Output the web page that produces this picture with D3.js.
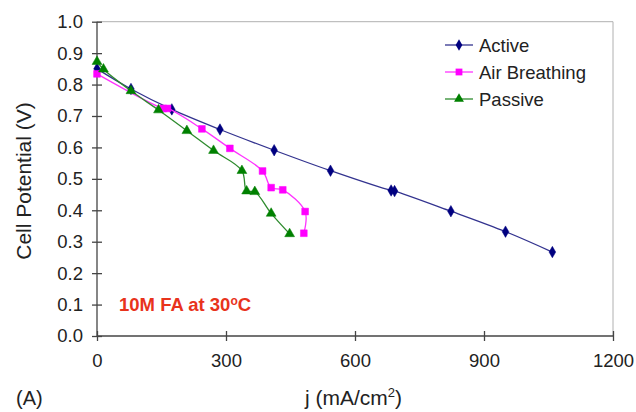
<!DOCTYPE html>
<html>
<head>
<meta charset="utf-8">
<script src="https://cdn.jsdelivr.net/npm/d3@7"></script>
<style>
  html, body { margin: 0; padding: 0; background: #fff; }
  svg { display: block; font-family: "Liberation Sans", Arial, sans-serif; }
</style>
</head>
<body>
<svg id="chart" width="636" height="412"></svg>
<script>
// ---- data ----
const xTicks = [0, 300, 600, 900, 1200];
const yTicks = [0, 0.1, 0.2, 0.3, 0.4, 0.5, 0.6, 0.7, 0.8, 0.9, 1.0];

const activeJ = [0, 79, 174, 286, 412, 543, 684, 692, 823, 950, 1059];
const activeV = [0.850, 0.786, 0.721, 0.657, 0.591, 0.526, 0.463, 0.461, 0.397, 0.332, 0.267];

const airJ = [0, 154, 164, 244, 309, 385, 405, 432, 484, 481];
const airV = [0.834, 0.724, 0.724, 0.659, 0.597, 0.525, 0.472, 0.465, 0.396, 0.327];

const passiveJ = [0, 15, 79, 143, 209, 271, 337, 348, 367, 405, 448];
const passiveV = [0.873, 0.849, 0.780, 0.719, 0.653, 0.590, 0.526, 0.461, 0.459, 0.390, 0.325];

const seriesNames = ["Active", "Air Breathing", "Passive"];

// ---- chart ----
const svg = d3.select("#chart");
const x = d3.scaleLinear().domain([0, 1200]).range([97, 613]);
const y = d3.scaleLinear().domain([0, 1]).range([336, 21.7]);

const series = [
  { name: seriesNames[0], j: activeJ, v: activeV, line: "#33338f", fill: "#000080", sym: d3.symbolDiamond, size: 38 },
  { name: seriesNames[1], j: airJ, v: airV, line: "#ff33ff", fill: "#ff00ff", sym: d3.symbolSquare, size: 46 },
  { name: seriesNames[2], j: passiveJ, v: passiveV, line: "#2e8b2e", fill: "#008000", sym: d3.symbolTriangle, size: 42 }
];

// frame (top & right)
svg.append("line").attr("x1", x(0)).attr("x2", x(1200)).attr("y1", y(1)).attr("y2", y(1))
  .attr("stroke", "#b0b0b0").attr("stroke-width", 1);
svg.append("line").attr("x1", x(1200)).attr("x2", x(1200)).attr("y1", y(1)).attr("y2", y(0))
  .attr("stroke", "#b0b0b0").attr("stroke-width", 1);

// axes
const axisColor = "#444";
const gy = svg.append("g").attr("transform", `translate(${x(0)},0)`)
  .call(d3.axisLeft(y).tickValues(yTicks).tickFormat(d3.format(".1f")).tickSize(5).tickPadding(9));
const gx = svg.append("g").attr("transform", `translate(0,${y(0)})`)
  .call(d3.axisBottom(x).tickValues(xTicks).tickFormat(d3.format("d")).tickSize(5).tickPadding(13));

[gy, gx].forEach(g => {
  g.select(".domain").attr("stroke", axisColor).attr("stroke-width", 1.3);
  g.selectAll(".tick line").attr("stroke", axisColor).attr("stroke-width", 1.3);
  g.selectAll(".tick text").attr("fill", "#222").style("font-size", "18.5px")
    .style("font-family", "'Liberation Sans', Arial, sans-serif");
});
gy.selectAll(".tick line").attr("x1", -5).attr("x2", 5);
gx.selectAll(".tick line").attr("y1", -5).attr("y2", 5);
gy.select(".domain").attr("d", `M0,${y(0)}V${y(1)}`);
gx.select(".domain").attr("d", `M${x(0)},0H${x(1200)}`);

// lines & markers
const lineGen = d3.line().curve(d3.curveCatmullRom.alpha(0.5));
series.forEach(s => {
  const pts = s.j.map((jj, i) => [x(jj), y(s.v[i])]);
  svg.append("path").attr("d", lineGen(pts)).attr("fill", "none")
    .attr("stroke", s.line).attr("stroke-width", 1.3);
  svg.append("g").selectAll("path").data(pts).join("path")
    .attr("transform", d => `translate(${d[0]},${d[1]})`)
    .attr("d", d3.symbol().type(s.sym).size(s.size)())
    .attr("fill", s.fill).attr("stroke", s.fill).attr("stroke-width", 0.5);
});

// legend
const legY = [45, 72, 99];
series.forEach((s, i) => {
  const g = svg.append("g").attr("transform", `translate(0,${legY[i]})`);
  g.append("line").attr("x1", 445).attr("x2", 473).attr("y1", 0).attr("y2", 0)
    .attr("stroke", s.line).attr("stroke-width", 1.3);
  g.append("path").attr("transform", "translate(459,0)")
    .attr("d", d3.symbol().type(s.sym).size(s.size)()).attr("fill", s.fill);
  g.append("text").attr("x", 479).attr("y", 6.5).text(s.name)
    .style("font-size", "18.5px").attr("fill", "#222");
});

// annotation
const ann = svg.append("text").attr("x", 119).attr("y", 311)
  .style("font-size", "18.5px").style("font-weight", "bold").attr("fill", "#e8331c");
ann.append("tspan").text("10M FA at 30");
ann.append("tspan").text("o").style("font-size", "12px").attr("dy", -6);
ann.append("tspan").text("C").attr("dy", 6);

// axis titles
svg.append("text").attr("transform", "translate(31,181) rotate(-90)")
  .attr("text-anchor", "middle").style("font-size", "21px").attr("fill", "#222")
  .text("Cell Potential (V)");

const xt = svg.append("text").attr("x", 305).attr("y", 405)
  .style("font-size", "21px").attr("fill", "#222");
xt.append("tspan").text("j (mA/cm");
xt.append("tspan").text("2").style("font-size", "13px").attr("dy", -8);
xt.append("tspan").text(")").attr("dy", 8);

svg.append("text").attr("x", 16).attr("y", 405).style("font-size", "20px")
  .attr("fill", "#222").text("(A)");
</script>
</body>
</html>
